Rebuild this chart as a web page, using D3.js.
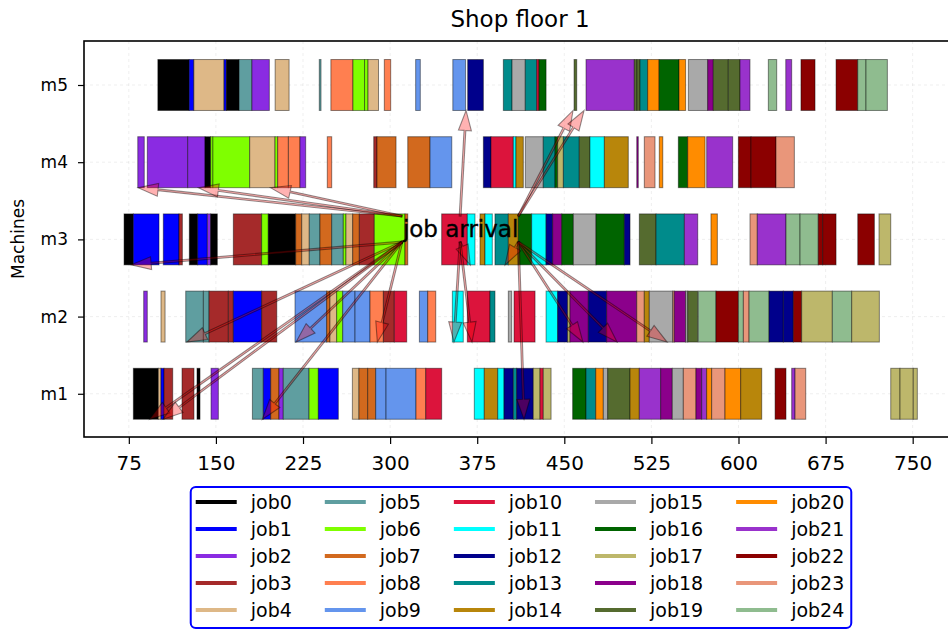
<!DOCTYPE html>
<html>
<head>
<meta charset="utf-8">
<script src="https://cdn.jsdelivr.net/npm/d3@7"></script>
<style>
  body { margin: 0; background: #fff; }
  text { font-family: "DejaVu Sans", sans-serif; }
</style>
</head>
<body>
<svg id="chart" width="948" height="633"></svg>
<script>
// ---- data ----
const machines = ["m1", "m2", "m3", "m4", "m5"];
const jobs = ["job0", "job1", "job2", "job3", "job4", "job5", "job6", "job7", "job8", "job9",
              "job10", "job11", "job12", "job13", "job14", "job15", "job16", "job17", "job18", "job19",
              "job20", "job21", "job22", "job23", "job24"];
const jobColors = ["black", "blue", "blueviolet", "brown", "burlywood", "cadetblue", "chartreuse",
                   "chocolate", "coral", "cornflowerblue", "crimson", "cyan", "darkblue", "darkcyan",
                   "darkgoldenrod", "darkgray", "darkgreen", "darkkhaki", "darkmagenta", "darkolivegreen",
                   "darkorange", "darkorchid", "darkred", "darksalmon", "darkseagreen"];
const xTicks = [75, 150, 225, 300, 375, 450, 525, 600, 675, 750];

// operations per machine: [start, end, job index]
const m1Ops = [[78.9,100.4,0],[100.4,102.7,4],[102.7,105.3,1],[105.3,112.8,3],[120.8,131.1,3],[133.7,136.3,0],
  [145.8,152.1,2],[181.4,190.8,5],[190.8,197.2,1],[197.2,204.3,7],[204.3,208,2],[208,230.2,5],[230.2,238.2,6],
  [238.2,255.4,1],[267.5,273.2,4],[273.2,280.7,7],[280.7,287.6,7],[287.6,296.5,9],[296.5,322.3,9],[322.3,330.7,8],
  [330.7,344.4,10],[372.5,381.1,11],[381.1,392.7,14],[392.7,398.1,11],[398.1,406.1,12],[406.1,409,13],
  [409,423.3,12],[423.3,429.1,17],[429.1,431.9,10],[431.9,438.6,17],[457.2,468.7,16],[468.7,477.1,13],
  [477.1,483.6,20],[483.6,487.4,15],[487.4,506.6,19],[506.6,514.6,14],[514.6,533,21],[533,543,18],
  [543,552.5,15],[552.5,563.4,23],[563.4,568.3,18],[568.3,572.6,21],[572.6,576.9,20],[576.9,588.4,23],
  [588.4,601.9,20],[601.9,620,14],[631.5,640.9,22],[645.8,648.7,21],[648.7,657.9,23],[731.1,739.1,17],
  [739.1,750.5,17],[750.5,754,17]];
const m2Ops = [[87.8,90.9,2],[102.7,106.2,4],[124,139.2,5],[139.2,144.1,5],[144.1,160.7,3],[160.7,165,3],
  [165,189.4,1],[189.4,202.4,3],[218.1,245.4,9],[245.4,248.2,7],[248.2,254,4],[254,259.2,6],[259.2,269.8,9],
  [269.8,282.7,9],[282.7,294.2,8],[294.2,303.6,3],[303.6,314.3,10],[325.2,332.4,9],[332.4,339.3,8],
  [353.6,363,11],[366.5,386,10],[386,390.3,13],[401.8,404.7,15],[406.7,424.8,10],[434.3,444.3,11],
  [444.3,452.9,12],[452.9,454.9,17],[454.9,470.7,18],[470.7,486.5,12],[486.5,512.4,18],[512.4,518.9,23],
  [518.9,523.2,14],[523.2,543.4,15],[543.4,544.7,23],[544.7,554.5,18],[554.5,556.3,15],[556.3,564.9,19],
  [565.4,580.6,24],[580.6,599.9,22],[599.9,604.2,24],[604.2,609.1,23],[609.1,626.3,24],[626.3,638.6,12],
  [638.6,647.2,12],[647.2,654.4,22],[654.4,680.8,17],[680.8,697.5,24],[697.5,721.3,17]];
const m3Ops = [[70.9,78.9,0],[78.9,101,1],[104.7,118.2,1],[118.2,121.1,3],[127.1,134.3,0],[134.3,142.6,1],
  [142.6,145.5,2],[145.5,151.2,0],[165,189.4,3],[189.4,195.1,6],[195.1,218.7,0],[218.7,223.9,7],
  [223.9,230.4,4],[230.4,239.6,5],[239.6,249.7,7],[249.7,259.7,5],[259.7,262,6],[262,267.8,4],
  [267.8,273.5,7],[273.5,286.4,3],[286.4,312.8,6],[312.8,315.2,7],[344.4,366.5,10],[366.5,373.1,11],
  [377.4,381.7,14],[381.7,388,11],[390.3,401.8,13],[401.8,410.4,14],[410.4,421.9,16],[421.9,434.3,11],
  [434.3,440,12],[440,447.8,18],[447.8,457.8,16],[457.8,477.3,15],[477.3,501.7,16],[501.7,506.6,12],
  [514.6,529,19],[529,553.4,13],[553.4,564.9,21],[576.3,581.8,20],[609.9,616.2,23],[616.2,640.9,21],
  [640.9,653,24],[653,668.7,24],[668.7,672.5,22],[672.5,684,22],[702.7,717,22],[721,731.1,17]];
const m4Ops = [[82.7,88.3,2],[90.9,125.7,2],[125.7,140.6,2],[140.6,145.5,0],[145.5,147.4,6],[147.4,179.1,6],
  [179.1,200.9,4],[200.9,203.2,6],[203.2,212.4,8],[212.4,222.4,8],[222.4,227.3,2],[245.9,249.7,8],
  [285.9,288.7,3],[288.7,305.1,7],[315.2,334.4,7],[334.4,353.1,9],[380.3,386.9,12],[386.9,406.1,10],
  [406.1,408.4,11],[408.4,414.7,14],[416.4,431.9,15],[431.9,442,13],[442,444.3,16],[444.3,449.2,17],
  [449.2,462.9,13],[462.9,472.1,19],[472.1,484.5,11],[484.5,505.1,14],[512.4,513.7,18],[518.9,528.1,23],
  [531.8,534.8,20],[548.2,556.3,16],[556.3,571.2,20],[572.6,595,21],[599.9,610.8,22],[610.8,632.3,22],
  [632.3,648.1,23]];
const m5Ops = [[100,127,0],[127,131,1],[131,157,4],[157,159,1],[159,170,0],[170,181,5],[181,196,2],
  [201,213,4],[239,240.5,5],[249,268,8],[268,278,6],[278,281,6],[281,290,4],[295,300.5,8],[322,326,9],
  [354,365,9],[366.8,380.3,12],[397.5,405,13],[405,416.4,15],[416.4,426.3,13],[426.3,428.2,10],
  [428.2,434.3,16],[458.4,460.7,19],[468.7,510.3,21],[510.3,512.5,19],[512.5,515.2,19],[515.2,521.8,13],
  [521.8,531.6,20],[531.6,548.8,16],[548.8,554.5,20],[556.8,573.5,15],[573.5,578.3,18],[578.3,591.2,19],
  [591.2,601.3,19],[601.3,609.9,21],[625.7,632.9,24],[640.7,645.8,21],[653.8,665.9,22],[684,702.7,22],
  [702.7,709.8,24],[709.8,728.2,24]];

// job arrivals: [time, machine]
const arrivals = [[83,"m4"],[135,"m4"],[197,"m4"],[77,"m3"],[125,"m2"],[219,"m2"],[289,"m2"],
  [93,"m1"],[104.5,"m1"],[190,"m1"],[365.4,"m5"],[457.5,"m5"],[467,"m5"],[369,"m3"],[399,"m3"],
  [355,"m2"],[370.5,"m2"],[466,"m2"],[495.4,"m2"],[538.5,"m2"],[415.3,"m1"]];
const arrivalLabel = "job arrival";
const arrivalLabelAt = [311, 3.03];
const title = "Shop floor 1";
const yTitle = "Machines";

// ---- layout ----
const svg = d3.select("#chart");
const plot = { left: 84, right: 956, top: 41, bottom: 437 };
const x = d3.scaleLinear().domain([36.4, 787.3]).range([plot.left, plot.right]);
const y = d3.scaleLinear().domain([0.44, 5.57]).range([plot.bottom, plot.top]);
const half = 0.33;
const level = m => machines.indexOf(m) + 1;

svg.append("defs").append("clipPath").attr("id", "plotClip")
  .append("rect").attr("x", plot.left).attr("y", plot.top)
  .attr("width", plot.right - plot.left).attr("height", plot.bottom - plot.top);

// faint grid
const grid = svg.append("g").attr("stroke", "#b0b0b0").attr("stroke-opacity", 0.25)
  .attr("stroke-width", 0.8).attr("stroke-dasharray", "3,3");
grid.selectAll("line.gx").data(xTicks).join("line").attr("class", "gx")
  .attr("x1", d => x(d)).attr("x2", d => x(d)).attr("y1", plot.top).attr("y2", plot.bottom);
grid.selectAll("line.gy").data(machines).join("line").attr("class", "gy")
  .attr("x1", plot.left).attr("x2", plot.right).attr("y1", d => y(level(d))).attr("y2", d => y(level(d)));

// bars
const opsByMachine = [m1Ops, m2Ops, m3Ops, m4Ops, m5Ops];
const barLayer = svg.append("g").attr("clip-path", "url(#plotClip)");
machines.forEach((m, i) => {
  const lv = level(m);
  barLayer.append("g").selectAll("rect").data(opsByMachine[i]).join("rect")
    .attr("x", d => x(d[0]))
    .attr("width", d => Math.max(0.5, x(d[1]) - x(d[0])))
    .attr("y", y(lv + half))
    .attr("height", y(lv - half) - y(lv + half))
    .attr("fill", d => jobColors[d[2]])
    .attr("stroke", "#000").attr("stroke-opacity", 0.45).attr("stroke-width", 1);
});

const arrowLayer = svg.append("g").attr("clip-path", "url(#plotClip)");
const textLayer = svg.append("g");

// arrival label
const label = textLayer.append("text")
  .attr("x", x(arrivalLabelAt[0])).attr("y", y(arrivalLabelAt[1]))
  .attr("font-size", 23).attr("fill", "#000")
  .attr("stroke", "#000").attr("stroke-width", 0.35).text(arrivalLabel);
const bb = label.node().getBBox();

// arrows start at the nearest corner / edge-midpoint of the label box
function arrowPath(sx, sy, tx, ty) {
  const dx = tx - sx, dy = ty - sy, len = Math.hypot(dx, dy);
  const ux = dx / len, uy = dy / len, nx = -uy, ny = ux;
  const hl = Math.min(20, len * 0.85), hw = 6.5, sw = 0.9;
  const bx = tx - ux * hl, by = ty - uy * hl;
  const pts = [
    [sx + nx * sw, sy + ny * sw], [bx + nx * sw, by + ny * sw], [bx + nx * hw, by + ny * hw],
    [tx, ty], [bx - nx * hw, by - ny * hw], [bx - nx * sw, by - ny * sw], [sx - nx * sw, sy - ny * sw]
  ];
  return "M" + pts.map(p => p[0].toFixed(2) + "," + p[1].toFixed(2)).join("L") + "Z";
}
arrowLayer.selectAll("path").data(arrivals).join("path")
  .attr("d", d => {
    const tx = x(d[0]), ty = y(level(d[1]) - half);
    const xs = [bb.x, bb.x + bb.width / 2, bb.x + bb.width];
    const ys = [bb.y, bb.y + bb.height / 2, bb.y + bb.height];
    const sx = xs.reduce((a, b) => Math.abs(b - tx) < Math.abs(a - tx) ? b : a);
    const sy = ys.reduce((a, b) => Math.abs(b - ty) < Math.abs(a - ty) ? b : a);
    return arrowPath(sx, sy, tx, ty);
  })
  .attr("fill", "red").attr("fill-opacity", 0.3)
  .attr("stroke", "#000").attr("stroke-opacity", 0.42).attr("stroke-width", 1.1)
  .attr("stroke-linejoin", "miter");

// axes
const xAxis = d3.axisBottom(x).tickValues(xTicks).tickSize(7).tickPadding(12).tickFormat(d3.format("d"));
svg.append("g").attr("transform", `translate(0,${plot.bottom})`).call(xAxis)
  .call(g => g.select(".domain").remove())
  .attr("font-size", 20).attr("font-family", "DejaVu Sans")
  .call(g => g.selectAll("line").attr("stroke", "#000").attr("stroke-width", 1.2));

const yAxis = d3.axisLeft(y).tickValues(machines.map(level)).tickSize(6).tickPadding(10)
  .tickFormat(v => machines[v - 1]);
svg.append("g").attr("transform", `translate(${plot.left},0)`).call(yAxis)
  .call(g => g.select(".domain").remove())
  .attr("font-size", 17).attr("font-family", "DejaVu Sans")
  .call(g => g.selectAll("line").attr("stroke", "#000").attr("stroke-width", 1.2));

// frame
svg.append("rect").attr("x", plot.left).attr("y", plot.top)
  .attr("width", plot.right - plot.left).attr("height", plot.bottom - plot.top)
  .attr("fill", "none").attr("stroke", "#000").attr("stroke-width", 1.6);

// titles
svg.append("text").attr("x", (plot.left + plot.right) / 2).attr("y", 27)
  .attr("text-anchor", "middle").attr("font-size", 23).text(title);
svg.append("text").attr("transform", `translate(24,${(plot.top + plot.bottom) / 2}) rotate(-90)`)
  .attr("text-anchor", "middle").attr("font-size", 17).text(yTitle);

// legend: 5 rows, column-major
const rows = 5, lineLen = 41, gap = 14, colSpace = 33, rowStep = 27, legFont = 19;
const legend = svg.append("g");
const nCols = Math.ceil(jobs.length / rows);
const colW = [];
for (let c = 0; c < nCols; c++) {
  let w = 0;
  jobs.slice(c * rows, c * rows + rows).forEach(name => {
    const t = legend.append("text").attr("font-size", legFont).text(name);
    w = Math.max(w, t.node().getComputedTextLength());
    t.remove();
  });
  colW.push(w);
}
const contentW = d3.sum(colW) + nCols * (lineLen + gap) + (nCols - 1) * colSpace;
const padL = 5, padR = 7;
const boxW = contentW + padL + padR;
const boxX = (plot.left + plot.right) / 2 - boxW / 2 + 1;
const boxY = 487, firstRow = 502;
const colX = colW.map((w, c) => boxX + padL + d3.sum(colW.slice(0, c)) + c * (lineLen + gap + colSpace));
legend.append("rect").attr("x", boxX).attr("y", boxY).attr("width", boxW)
  .attr("height", (rows - 1) * rowStep + 33).attr("rx", 5)
  .attr("fill", "#fff").attr("stroke", "blue").attr("stroke-width", 2);
const items = legend.selectAll("g.item").data(jobs).join("g").attr("class", "item")
  .attr("transform", (d, k) => `translate(${colX[Math.floor(k / rows)]},${firstRow + (k % rows) * rowStep})`);
items.append("line").attr("x1", 0).attr("x2", lineLen)
  .attr("stroke", (d, k) => jobColors[k]).attr("stroke-width", 4);
items.append("text").attr("x", lineLen + gap).attr("dy", "0.35em")
  .attr("font-size", legFont).text(d => d);
</script>
</body>
</html>
